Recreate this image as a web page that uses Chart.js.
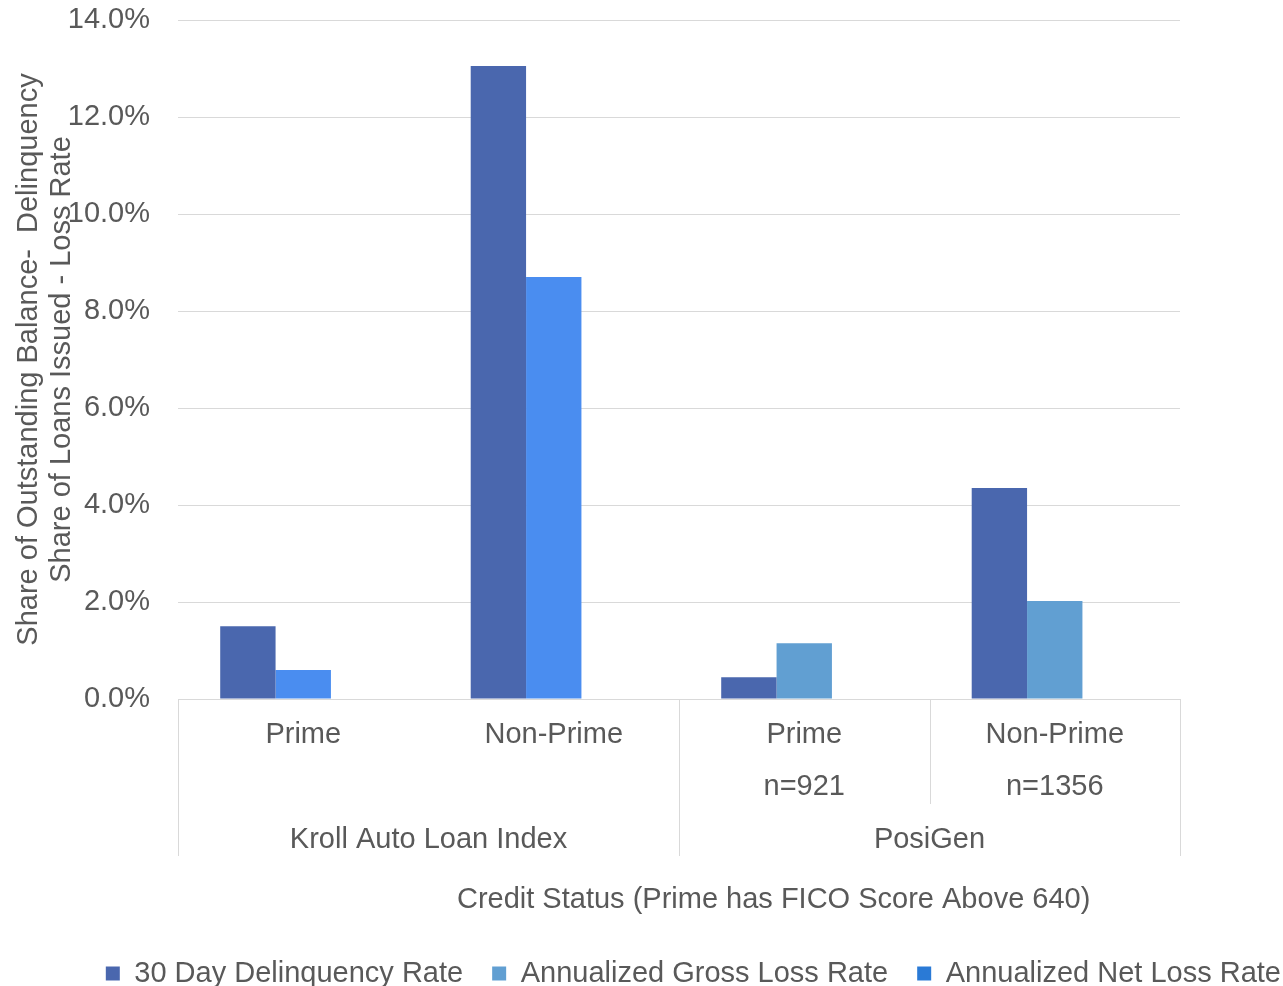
<!DOCTYPE html>
<html>
<head>
<meta charset="utf-8">
<script src="https://cdn.jsdelivr.net/npm/chart.js@4/dist/chart.umd.min.js"></script>
<style>
  html, body { margin: 0; padding: 0; background: #fff; }
  #wrap { width: 1283px; height: 986px; position: relative; }
</style>
</head>
<body>
<div id="wrap"><canvas id="lossChart"></canvas></div>
<script>
// chart values
const categoryLabels = ['Prime', 'Non-Prime', 'Prime', 'Non-Prime'];
const sampleSizes = ['', '', 'n=921', 'n=1356'];
const groupLabels = ['Kroll Auto Loan Index', 'PosiGen'];
const groupSizes = [2, 2];
const seriesNames = ['30 Day Delinquency Rate', 'Annualized Gross Loss Rate', 'Annualized Net Loss Rate'];
const delinquencyRate = [1.5, 13.05, 0.45, 4.35];
const grossLossRate = [0.6, 8.7, 1.15, 2.02];
const netLossRate = [null, null, null, null];
const yTicks = [0, 2, 4, 6, 8, 10, 12, 14];
const yTitle = ['Share of Outstanding Balance-  Delinquency', 'Share of Loans Issued - Loss Rate'];
const xTitle = 'Credit Status (Prime has FICO Score Above 640)';

const darkBlue = '#4a67ae';
const brightBlue = '#4a8df0';
const lightBlue = '#619fd2';
const netBlue = '#2a7ad6';
const legendColors = [darkBlue, lightBlue, netBlue];
const textColor = '#595959';
const lineColor = '#d9d9d9';
const fontFamily = '"Liberation Sans", Arial, sans-serif';
const fontSize = 29;

// Kroll bars of the gross series are drawn in a brighter blue in the original
const grossColors = [brightBlue, brightBlue, lightBlue, lightBlue];

// separators + group level lines below the axis, and the x title
const groupLines = {
  id: 'groupLines',
  afterDraw(chart) {
    const ctx = chart.ctx;
    const x = chart.scales.x, x2 = chart.scales.x2;
    const edge = i => (x.getPixelForValue(i - 1) + x.getPixelForValue(i)) / 2;
    const groupBottom = x2.top + 52;
    const seg = (px, y1, y2) => {
      ctx.beginPath();
      ctx.moveTo(Math.round(px) + 0.5, y1);
      ctx.lineTo(Math.round(px) + 0.5, y2);
      ctx.stroke();
    };
    ctx.save();
    ctx.strokeStyle = lineColor;
    ctx.lineWidth = 1;
    seg(x.left, x.top, groupBottom);
    seg(x.right, x.top, groupBottom);
    let start = 0;
    groupSizes.forEach(n => {
      // inner lines only where the lower label row has text
      for (let i = start + 1; i < start + n; i++) {
        if (sampleSizes[i]) seg(edge(i), x.top, x.bottom);
      }
      start += n;
      if (start < categoryLabels.length) seg(edge(start), x.top, groupBottom);
    });
    ctx.fillStyle = textColor;
    ctx.font = fontSize + 'px ' + fontFamily;
    ctx.textAlign = 'center';
    ctx.textBaseline = 'middle';
    ctx.fillText(xTitle, chart.width * 0.603, x2.top + 96);
    ctx.restore();
  }
};

new Chart(document.getElementById('lossChart'), {
  type: 'bar',
  data: {
    labels: categoryLabels.map((c, i) => [c, sampleSizes[i]]),
    datasets: [
      { label: seriesNames[0], data: delinquencyRate, backgroundColor: darkBlue },
      { label: seriesNames[1], data: grossLossRate, backgroundColor: grossColors },
      { label: seriesNames[2], data: netLossRate, backgroundColor: netBlue }
    ]
  },
  options: {
    responsive: true,
    maintainAspectRatio: false,
    animation: false,
    categoryPercentage: 0.663,
    barPercentage: 1.0,
    layout: { padding: { top: 20, left: 0, right: -27, bottom: -12 } },
    plugins: {
      tooltip: { enabled: false },
      legend: {
        position: 'bottom',
        align: 'end',
        labels: {
          boxWidth: 14,
          boxHeight: 14,
          padding: 29,
          color: textColor,
          font: { family: fontFamily, size: fontSize },
          generateLabels(chart) {
            const items = Chart.defaults.plugins.legend.labels.generateLabels(chart);
            return items.map((it, i) => Object.assign(it, {
              fillStyle: legendColors[i], strokeStyle: legendColors[i], lineWidth: 0
            }));
          }
        }
      }
    },
    scales: {
      x: {
        grid: { display: false },
        border: { display: true, color: lineColor },
        ticks: {
          color: textColor,
          padding: 2,
          maxRotation: 0,
          autoSkip: false,
          font: { family: fontFamily, size: fontSize, lineHeight: 1.793 }
        },
        afterFit(scale) { scale.height = 105; }
      },
      x2: {
        type: 'category',
        labels: groupLabels,
        position: 'bottom',
        offset: true,
        weight: 1,
        grid: { display: false },
        border: { display: false },
        ticks: {
          color: textColor,
          padding: 11,
          maxRotation: 0,
          font: { family: fontFamily, size: fontSize }
        },
        afterFit(scale) { scale.height = 126; }
      },
      y: {
        min: 0,
        max: 14,
        afterBuildTicks(scale) { scale.ticks = yTicks.map(v => ({ value: v })); },
        grid: { color: lineColor, lineWidth: 1, drawTicks: true, tickLength: 28, tickColor: 'rgba(0,0,0,0)' },
        border: { display: false },
        ticks: {
          color: textColor,
          padding: 0,
          font: { family: fontFamily, size: fontSize },
          callback: v => v.toFixed(1) + '%'
        },
        title: {
          display: true,
          text: yTitle,
          color: textColor,
          padding: { top: 12, bottom: 0 },
          font: { family: fontFamily, size: fontSize, lineHeight: 1.14 }
        },
        afterFit(scale) { scale.width = 178; }
      },
      yRight: {
        position: 'right',
        display: true,
        grid: { display: false },
        border: { display: false },
        ticks: { display: false },
        afterFit(scale) { scale.width = 130; }
      }
    }
  },
  plugins: [groupLines]
});
</script>
</body>
</html>
